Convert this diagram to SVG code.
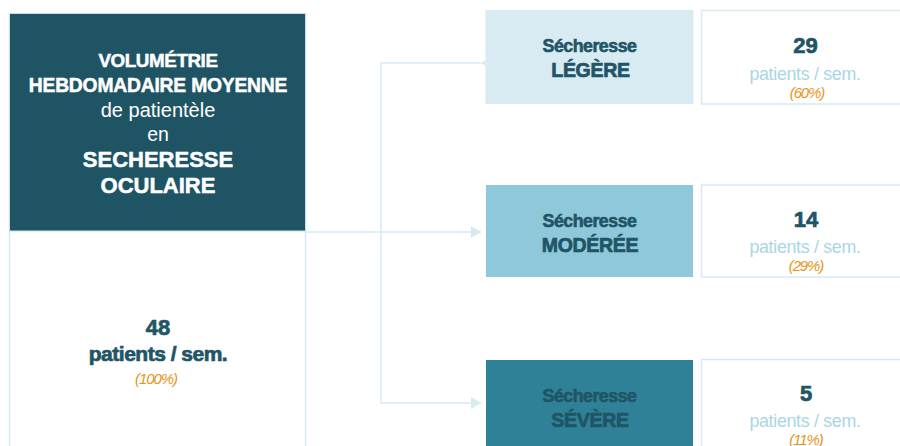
<svg xmlns="http://www.w3.org/2000/svg" width="900" height="446" viewBox="0 0 900 446">
<defs>
<style>
text{font-family:"Liberation Sans",Arial,sans-serif;text-anchor:middle}
.w{fill:#ffffff}
.b{font-weight:bold}
.wb{stroke:#ffffff;stroke-width:0.5}
.dk{fill:#1f5566}
.db{stroke:#1f5566;stroke-width:0.7}
.lt{fill:#a9d6e4;font-size:17.8px;letter-spacing:-0.3px}
.pc{fill:#e8931a;font-size:15px;font-style:italic;letter-spacing:-1.1px}
.num{fill:#1f5566;stroke:#1f5566;stroke-width:0.7;font-size:22px;font-weight:bold}
.sec{fill:#1f5566;stroke:#1f5566;stroke-width:0.6;font-size:17.8px;font-weight:bold;letter-spacing:-0.5px}
.lvl{fill:#1f5566;stroke:#1f5566;stroke-width:0.7;font-size:19.5px;font-weight:bold;letter-spacing:-0.3px}
.frame{fill:#ffffff;stroke:#d6e9f2;stroke-width:1.5}
.conn{fill:none;stroke:#d6eaf2;stroke-width:1.5}
</style>
<marker id="ar" markerWidth="10" markerHeight="12" refX="10" refY="6" orient="auto" markerUnits="userSpaceOnUse">
<path d="M0,0 L10,6 L0,12 Z" fill="#d6eaf2"/>
</marker>
</defs>
<rect width="900" height="446" fill="#ffffff"/>

<g id="connectors">
<path class="conn" d="M306,232 H481" marker-end="url(#ar)"/>
<path class="conn" d="M481,63 H381 V403 H481" marker-start="url(#ar)" marker-end="url(#ar)"/>
</g>

<g id="source">
<rect class="frame" x="9.5" y="13.5" width="296" height="445"/>
<rect x="9.5" y="13.5" width="296" height="217.5" fill="#1f5465" stroke="#c9e0ea" stroke-width="1"/>
<text class="w b wb" x="158" y="67" font-size="18.8" letter-spacing="-0.4">VOLUMÉTRIE</text>
<text class="w b wb" x="158" y="92" font-size="19.3" letter-spacing="-0.2">HEBDOMADAIRE MOYENNE</text>
<text class="w" x="158" y="117" font-size="20">de patientèle</text>
<text class="w" x="158" y="141" font-size="19.5">en</text>
<text class="w b wb" x="158" y="167" font-size="22">SECHERESSE</text>
<text class="w b wb" x="158" y="193" font-size="22">OCULAIRE</text>
<text class="dk b db" x="158" y="335" font-size="22">48</text>
<text class="dk b db" x="158" y="361" font-size="21" letter-spacing="-0.5">patients / sem.</text>
<text class="pc" x="156" y="384">(100%)</text>
</g>

<g id="legere">
<rect x="485.5" y="10" width="208" height="94" fill="#d8ebf2"/>
<text class="sec" x="589.5" y="52">Sécheresse</text>
<text class="lvl" x="590.5" y="77">LÉGÈRE</text>
</g>
<g id="legere-value">
<rect x="701.5" y="10.5" width="210" height="93.5" fill="#ffffff" stroke="#d9e9f3" stroke-width="1.5"/>
<text class="num" x="805.5" y="52.5">29</text>
<text class="lt" x="805" y="80">patients / sem.</text>
<text class="pc" x="807" y="98">(60%)</text>
</g>

<g id="moderee">
<rect x="486" y="185" width="207" height="92" fill="#8fc8da"/>
<text class="sec" x="589.5" y="226.5">Sécheresse</text>
<text class="lvl" x="590" y="252">MODÉRÉE</text>
</g>
<g id="moderee-value">
<rect x="701.5" y="185" width="210" height="92" fill="#ffffff" stroke="#d9e9f3" stroke-width="1.5"/>
<text class="num" x="806" y="226.5">14</text>
<text class="lt" x="805" y="253">patients / sem.</text>
<text class="pc" x="806" y="271">(29%)</text>
</g>

<g id="severe">
<rect x="486" y="360" width="207" height="100" fill="#2e8196"/>
<text class="sec" x="589.5" y="401.5">Sécheresse</text>
<text class="lvl" x="590" y="426.5">SÉVÈRE</text>
</g>
<g id="severe-value">
<rect x="701.5" y="359.5" width="210" height="100" fill="#ffffff" stroke="#d9e9f3" stroke-width="1.5"/>
<text class="num" x="806" y="401">5</text>
<text class="lt" x="805" y="427">patients / sem.</text>
<text class="pc" x="806" y="445">(11%)</text>
</g>
</svg>
